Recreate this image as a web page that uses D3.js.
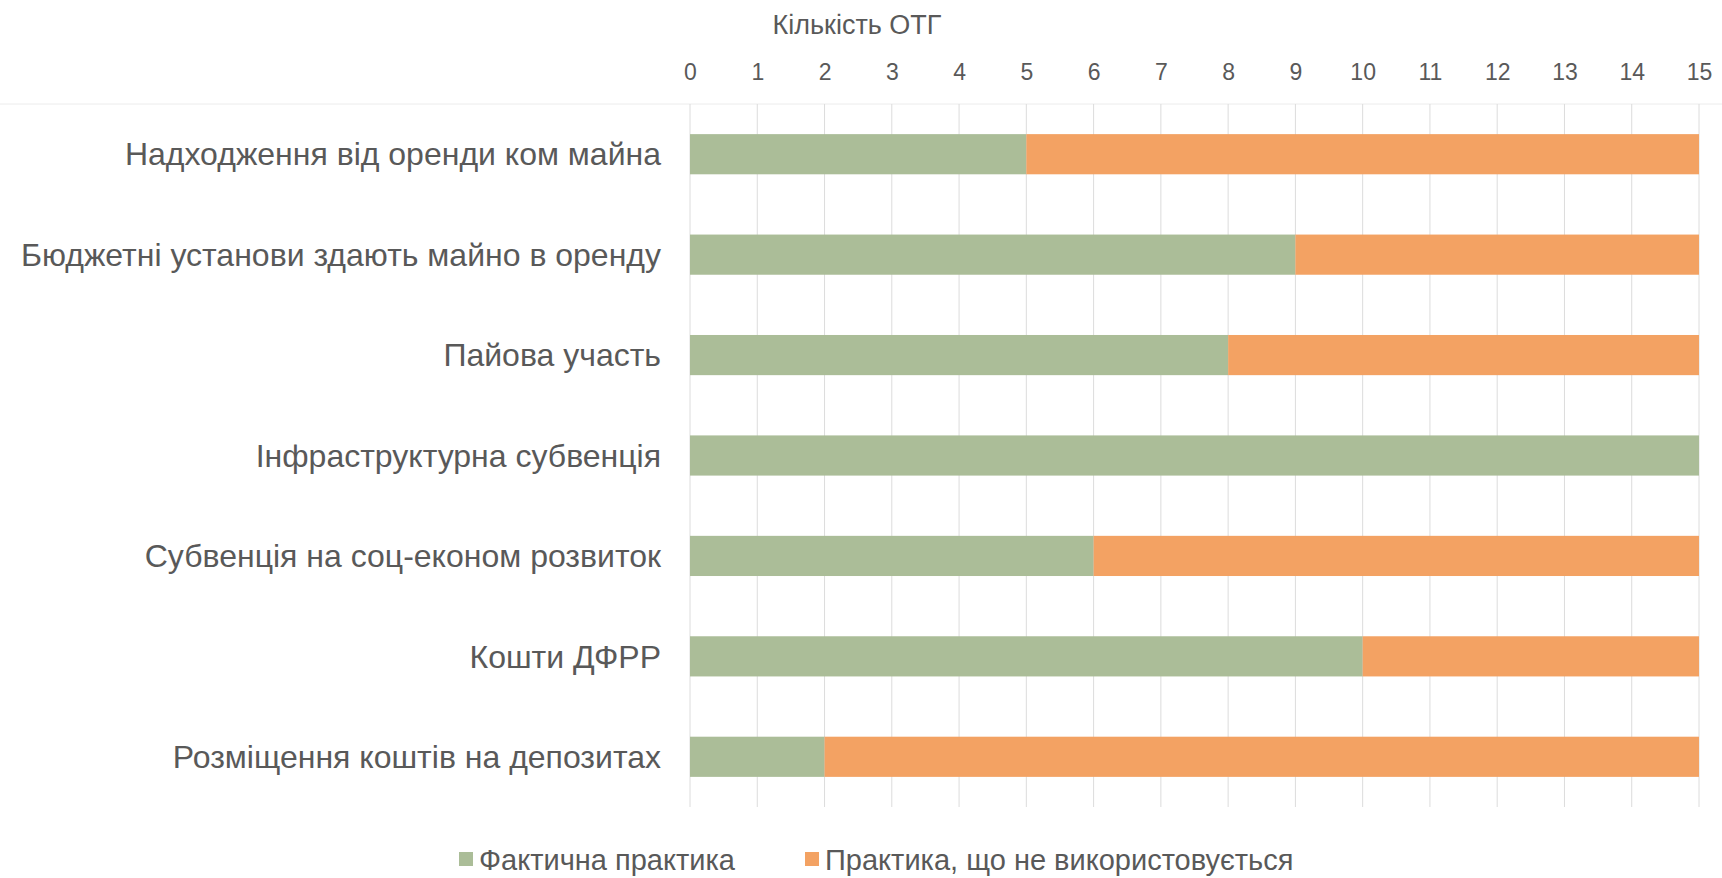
<!DOCTYPE html>
<html>
<head>
<meta charset="utf-8">
<script src="https://cdn.jsdelivr.net/npm/d3@7"></script>
<style>
  body { margin: 0; background: #fff; }
  text { font-family: "Liberation Sans", Arial, sans-serif; fill: #595959; }
</style>
</head>
<body>
<svg id="chart"></svg>
<script>
// data
const categories = [
    'Надходження від оренди ком майна',
    'Бюджетні установи здають майно в оренду',
    'Пайова участь',
    'Інфраструктурна субвенція',
    'Субвенція на соц-економ розвиток',
    'Кошти ДФРР',
    'Розміщення коштів на депозитах'
];
const used = [5, 9, 8, 15, 6, 10, 2];
const notUsed = [10, 6, 7, 0, 9, 5, 13];
const seriesNames = ['Фактична практика', 'Практика, що не використовується'];
const seriesColors = ['#abbd98', '#f3a263'];
const ticks = d3.range(0, 16);

const width = 1722, height = 878;
const margin = { top: 104, right: 23, bottom: 71, left: 690 };

const svg = d3.select('#chart')
    .attr('width', width)
    .attr('height', height);

const x = d3.scaleLinear()
    .domain([0, 15])
    .range([margin.left, width - margin.right]);

const y = d3.scaleBand()
    .domain(categories)
    .range([margin.top, height - margin.bottom])
    .paddingInner(0.6)
    .paddingOuter(0.3);

// stack the two series
const rows = categories.map((c, i) => ({ cat: c, used: used[i], notUsed: notUsed[i] }));
const stacked = d3.stack().keys(['used', 'notUsed'])(rows);

// top rule
svg.append('line')
    .attr('x1', 0).attr('x2', width)
    .attr('y1', margin.top).attr('y2', margin.top)
    .attr('stroke', '#ececec');

// gridlines
svg.append('g')
    .selectAll('line')
    .data(ticks)
    .join('line')
    .attr('x1', d => x(d)).attr('x2', d => x(d))
    .attr('y1', margin.top).attr('y2', height - margin.bottom)
    .attr('stroke', '#dcdcdc')
    .attr('stroke-width', 1);

// bars
svg.append('g')
    .selectAll('g')
    .data(stacked)
    .join('g')
    .attr('fill', (d, i) => seriesColors[i])
    .selectAll('rect')
    .data(d => d)
    .join('rect')
    .attr('x', d => x(d[0]))
    .attr('y', d => y(d.data.cat))
    .attr('width', d => x(d[1]) - x(d[0]))
    .attr('height', y.bandwidth());

// top axis
const axis = svg.append('g')
    .attr('transform', 'translate(0,' + (margin.top - 24) + ')')
    .call(d3.axisTop(x).tickValues(ticks).tickSize(0).tickPadding(0));
axis.select('.domain').remove();
axis.selectAll('text')
    .style('font-size', '23px')
    .attr('fill', '#666');

svg.append('text')
    .attr('x', 857)
    .attr('y', 34)
    .attr('text-anchor', 'middle')
    .style('font-size', '27px')
    .text('Кількість ОТГ');

// category labels
svg.append('g')
    .selectAll('text')
    .data(categories)
    .join('text')
    .attr('x', margin.left - 29)
    .attr('y', d => y(d) + y.bandwidth() / 2)
    .attr('dy', '0.35em')
    .attr('text-anchor', 'end')
    .style('font-size', '32px')
    .text(d => d);

// legend
const legendX = [459, 805];
const legend = svg.append('g')
    .selectAll('g')
    .data(seriesNames)
    .join('g')
    .attr('transform', (d, i) => 'translate(' + legendX[i] + ',' + 860 + ')');
legend.append('rect')
    .attr('x', 0).attr('y', -8)
    .attr('width', 14).attr('height', 14)
    .attr('fill', (d, i) => seriesColors[i]);
legend.append('text')
    .attr('x', 20)
    .attr('y', 0)
    .attr('dy', '0.35em')
    .style('font-size', '29px')
    .text(d => d);
</script>
</body>
</html>
